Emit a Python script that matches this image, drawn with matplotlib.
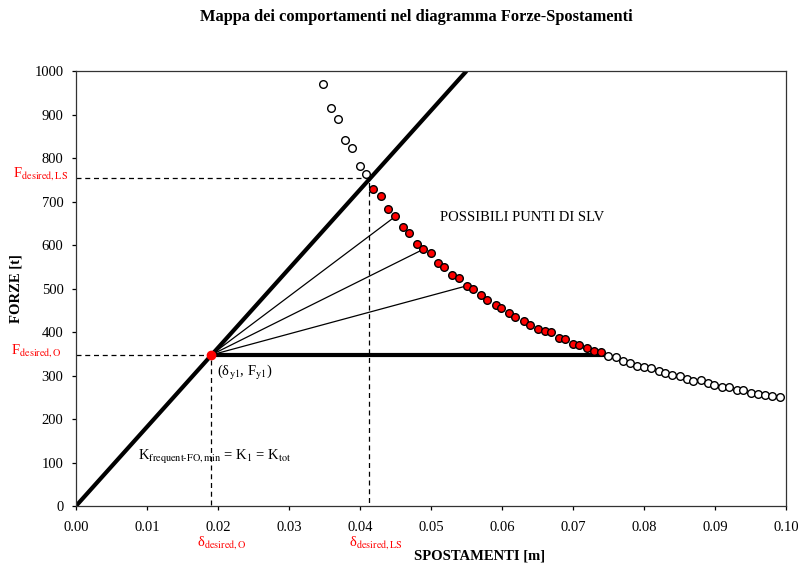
import matplotlib.pyplot as plt
from matplotlib.ticker import FormatStrFormatter, MultipleLocator

plt.rcParams['font.family'] = ['Liberation Serif', 'DejaVu Serif']
plt.rcParams['mathtext.fontset'] = 'stix'

# curva di capacita' - tratto prima del punto di progetto LS (vuoti)
spost_pre = [0.0348, 0.0359, 0.0369, 0.0379, 0.0389, 0.0400, 0.0409]
forze_pre = [971, 914, 889, 842, 823, 782, 763]

# possibili punti di SLV (pieni rossi)
spost_slv = [0.0419, 0.0429, 0.0440, 0.0450, 0.0460, 0.0469, 0.0480, 0.0489,
             0.0500, 0.0510, 0.0519, 0.0529, 0.0539, 0.0550, 0.0559, 0.0570,
             0.0579, 0.0591, 0.0599, 0.0610, 0.0619, 0.0631, 0.0639, 0.0650,
             0.0660, 0.0669, 0.0680, 0.0689, 0.0700, 0.0709, 0.0719, 0.0730,
             0.0740]
forze_slv = [729, 713, 682, 666, 642, 628, 603, 590, 581, 559, 549, 532, 524,
             506, 499, 484, 474, 463, 455, 444, 435, 425, 417, 408, 402, 399,
             386, 383, 373, 370, 364, 356, 353]

# tratto oltre la soglia (vuoti)
spost_post = [0.0749, 0.0760, 0.0770, 0.0780, 0.0790, 0.0800, 0.0810, 0.0821,
              0.0830, 0.0840, 0.0850, 0.0860, 0.0869, 0.0880, 0.0890, 0.0899,
              0.0910, 0.0920, 0.0931, 0.0940, 0.0950, 0.0960, 0.0970, 0.0980,
              0.0991]
forze_post = [345, 342, 333, 329, 323, 320, 317, 310, 306, 301, 298, 291, 287,
              289, 282, 279, 274, 274, 267, 266, 260, 257, 255, 253, 251]

# punto di snervamento e rigidezza
d_y1, f_y1 = 0.0190, 347
d_k_fine, f_k_fine = 0.0550, 1000
d_plateau_fine = 0.0743

# punto desiderato LS
d_des_ls, f_des_ls = 0.0412, 753

# rette verso alcuni punti SLV
spost_rette = [0.0450, 0.0489, 0.0550]
forze_rette = [666, 590, 506]

fig = plt.figure(figsize=(7.98, 5.65), dpi=100)
ax = fig.add_axes([0.0952, 0.1044, 0.8898, 0.7699])

# linee tratteggiate di riferimento
ax.plot([0, d_y1, d_y1], [f_y1, f_y1, 0], color='black', lw=0.9, ls=(0, (4, 3)))
ax.plot([0, d_des_ls, d_des_ls], [f_des_ls, f_des_ls, 0], color='black', lw=0.9, ls=(0, (4, 3)))

# rigidezza iniziale e plateau
ax.plot([0, d_k_fine], [0, f_k_fine], color='black', lw=3, solid_capstyle='butt')
ax.plot([d_y1, d_plateau_fine], [f_y1, f_y1], color='black', lw=3, solid_capstyle='butt')

for xs, ys in zip(spost_rette, forze_rette):
    ax.plot([d_y1, xs], [f_y1, ys], color='black', lw=0.9)

ax.plot(spost_pre, forze_pre, 'o', ms=5.5, mfc='white', mec='black', mew=1)
ax.plot(spost_post, forze_post, 'o', ms=5.5, mfc='white', mec='black', mew=1)
ax.plot(spost_slv, forze_slv, 'o', ms=5.5, mfc='red', mec='black', mew=1)
ax.plot([d_y1], [f_y1], 'o', ms=6, color='red', zorder=5)

ax.set_xlim(0, 0.1)
ax.set_ylim(0, 1000)
ax.xaxis.set_major_locator(MultipleLocator(0.01))
ax.xaxis.set_major_formatter(FormatStrFormatter('%.2f'))
ax.yaxis.set_major_locator(MultipleLocator(100))
ax.tick_params(direction='out', length=3, width=0.9, labelsize=10.5)
ax.tick_params(axis='x', pad=8)
ax.tick_params(axis='y', pad=6)
for sp in ax.spines.values():
    sp.set_linewidth(0.9)
    sp.set_color('#333333')

# testi
ax.text(0.0513, 664, 'POSSIBILI PUNTI DI SLV', fontsize=10.5, va='center')
ax.text(0.0199, 306, r'(δ$_{\rm y1}$, F$_{\rm y1}$)', fontsize=10.5, va='center')
ax.text(0.0087, 113, r'K$_{\rm frequent\text{-}FO,min}$ = K$_{\rm 1}$ = K$_{\rm tot}$',
        fontsize=10.5, va='center')

# etichette rosse sugli assi
ax.text(-0.0011, f_des_ls + 12, r'F$_{\rm desired,LS}$', color='red', fontsize=10.5,
        ha='right', va='center', clip_on=False)
ax.text(-0.0020, f_y1 + 10, r'F$_{\rm desired,O}$', color='red', fontsize=10.5,
        ha='right', va='center', clip_on=False)
ax.text(0.0171, -85, r'δ$_{\rm desired,O}$', color='red', fontsize=10.5,
        ha='left', va='center', clip_on=False)
ax.text(0.0384, -85, r'δ$_{\rm desired,LS}$', color='red', fontsize=10.5,
        ha='left', va='center', clip_on=False)

ax.text(0.568, -0.115, 'SPOSTAMENTI [m]', transform=ax.transAxes,
        fontsize=10.5, fontweight='bold', ha='center', va='center')
ax.set_ylabel('FORZE [t]', fontsize=10.5, fontweight='bold')
ax.yaxis.set_label_coords(-0.076, 0.5)
fig.text(416 / 798, 1 - 17 / 565, 'Mappa dei comportamenti nel diagramma Forze-Spostamenti',
         fontsize=11.75, fontweight='bold', ha='center', va='center')

fig.savefig('out.png', dpi=100)
